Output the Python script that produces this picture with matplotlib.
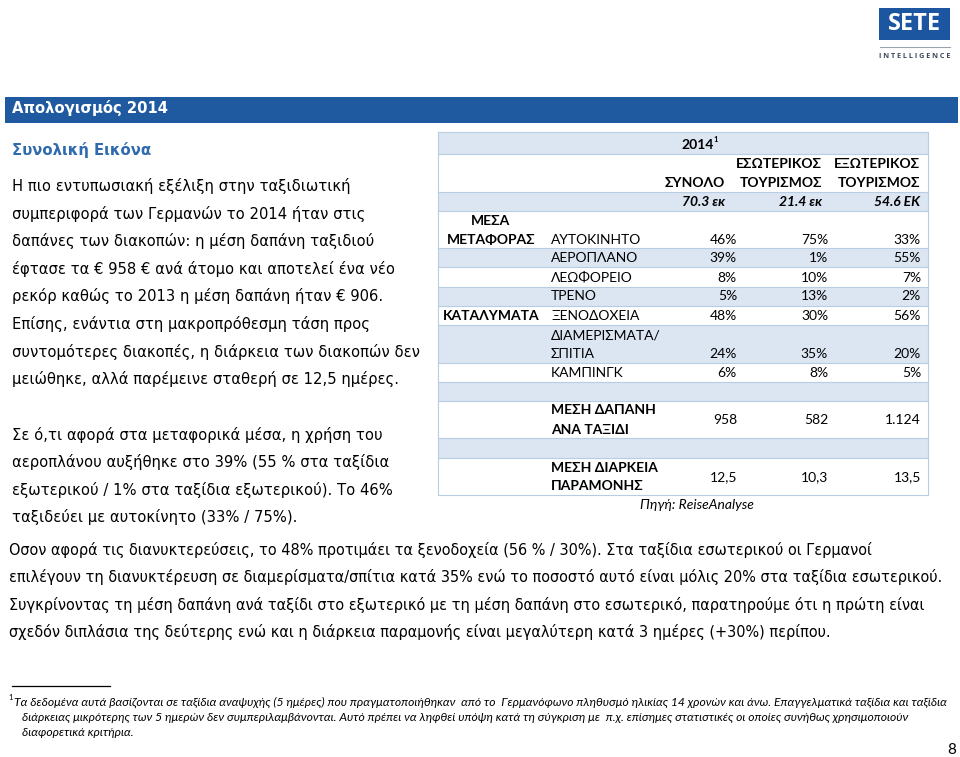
import matplotlib
matplotlib.use('Agg')
import matplotlib.pyplot as plt
from matplotlib import font_manager
from matplotlib.patches import Rectangle

# --- table data -------------------------------------------------------------
year_label = '2014'
col_headers = [['ΣΥΝΟΛΟ'], ['ΕΣΩΤΕΡΙΚΟΣ', 'ΤΟΥΡΙΣΜΟΣ'], ['ΕΞΩΤΕΡΙΚΟΣ', 'ΤΟΥΡΙΣΜΟΣ']]
population = ['70.3 εκ', '21.4 εκ', '54.6 ΕΚ']

transport_labels = ['ΑΥΤΟΚΙΝΗΤΟ', 'ΑΕΡΟΠΛΑΝΟ', 'ΛΕΩΦΟΡΕΙΟ', 'ΤΡΕΝΟ']
transport_total = [46, 39, 8, 5]
transport_domestic = [75, 1, 10, 13]
transport_abroad = [33, 55, 7, 2]

accom_labels = ['ΞΕΝΟΔΟΧΕΙΑ', 'ΔΙΑΜΕΡΙΣΜΑΤΑ/\nΣΠΙΤΙΑ', 'ΚΑΜΠΙΝΓΚ']
accom_total = [48, 24, 6]
accom_domestic = [30, 35, 8]
accom_abroad = [56, 20, 5]

spend_label = 'ΜΕΣΗ ΔΑΠΑΝΗ\nΑΝΑ ΤΑΞΙΔΙ'
spend = ['958', '582', '1.124']
stay_label = 'ΜΕΣΗ ΔΙΑΡΚΕΙΑ\nΠΑΡΑΜΟΝΗΣ'
stay = ['12,5', '10,3', '13,5']
source = 'Πηγή: ReiseAnalyse'

# --- page text --------------------------------------------------------------
left_para1 = [
    'Η πιο εντυπωσιακή εξέλιξη στην ταξιδιωτική',
    'συμπεριφορά των Γερμανών το 2014 ήταν στις',
    'δαπάνες των διακοπών: η μέση δαπάνη ταξιδιού',
    'έφτασε τα € 958 € ανά άτομο και αποτελεί ένα νέο',
    'ρεκόρ καθώς το 2013 η μέση δαπάνη ήταν € 906.',
    'Επίσης, ενάντια στη μακροπρόθεσμη τάση προς',
    'συντομότερες διακοπές, η διάρκεια των διακοπών δεν',
    'μειώθηκε, αλλά παρέμεινε σταθερή σε 12,5 ημέρες.',
]
left_para2 = [
    'Σε ό,τι αφορά στα μεταφορικά μέσα, η χρήση του',
    'αεροπλάνου αυξήθηκε στο 39% (55 % στα ταξίδια',
    'εξωτερικού / 1% στα ταξίδια εξωτερικού). Το 46%',
    'ταξιδεύει με αυτοκίνητο (33% / 75%).',
]
bottom_para = [
    'Οσον αφορά τις διανυκτερεύσεις, το 48% προτιμάει τα ξενοδοχεία (56 % / 30%). Στα ταξίδια εσωτερικού οι Γερμανοί',
    'επιλέγουν τη διανυκτέρευση σε διαμερίσματα/σπίτια κατά 35% ενώ το ποσοστό αυτό είναι μόλις 20% στα ταξίδια εσωτερικού.',
    'Συγκρίνοντας τη μέση δαπάνη ανά ταξίδι στο εξωτερικό με τη μέση δαπάνη στο εσωτερικό, παρατηρούμε ότι η πρώτη είναι',
    'σχεδόν διπλάσια της δεύτερης ενώ και η διάρκεια παραμονής είναι μεγαλύτερη κατά 3 ημέρες (+30%) περίπου.',
]
footnote = [
    'Τα δεδομένα αυτά βασίζονται σε ταξίδια αναψυχής (5 ημέρες) που πραγματοποιήθηκαν  από το  Γερμανόφωνο πληθυσμό ηλικίας 14 χρονών και άνω. Επαγγελματικά ταξίδια και ταξίδια',
    'διάρκειας μικρότερης των 5 ημερών δεν συμπεριλαμβάνονται. Αυτό πρέπει να ληφθεί υπόψη κατά τη σύγκριση με  π.χ. επίσημες στατιστικές οι οποίες συνήθως χρησιμοποιούν',
    'διαφορετικά κριτήρια.',
]

BLUE = '#1f5aa0'
SUB = '#2e6aad'
SHADE = '#dce6f2'
EDGE = '#b8cce4'
BODY = 'DejaVu Sans'
TAB = 'Lato'

# condensed face for the long bottom paragraph, if one is installed
names = {f.name for f in font_manager.fontManager.ttflist}
cond = None
for f in font_manager.fontManager.ttflist:
    if f.name == 'DejaVu Sans' and 'ondensed' in str(f.stretch) + f.fname:
        cond = ('DejaVu Sans', 'condensed')
        break
if cond is None and 'Liberation Sans Narrow' in names:
    cond = ('Liberation Sans Narrow', 'normal')
if cond is None:
    cond = ('DejaVu Sans', 'normal')

fig = plt.figure(figsize=(9.6, 7.57), dpi=100)
ax = fig.add_axes([0, 0, 1, 1])
ax.set_xlim(0, 960)
ax.set_ylim(757, 0)
ax.axis('off')

# logo
ax.add_patch(Rectangle((879, 8), 71, 32, color='#1c55a0', lw=0))
ax.text(914.5, 24.5, 'SETE', color='white', fontsize=17, fontweight='bold',
        family='Open Sans', ha='center', va='center')
ax.plot([880, 950], [46.5, 46.5], color='#9aa4b0', lw=0.8)
ax.text(915, 57, 'I N T E L L I G E N C E', color='#3a4a5c', fontsize=5.2,
        fontweight='bold', family='Open Sans', ha='center', va='center')

# title bar
ax.add_patch(Rectangle((5, 97), 953, 26, color=BLUE, lw=0))
ax.text(12, 108, 'Απολογισμός 2014', color='white', fontsize=10.6,
        fontweight='bold', family=BODY, va='center')
ax.text(12, 150, 'Συνολική Εικόνα', color=SUB, fontsize=10.7,
        fontweight='bold', family=BODY, va='center')

for i, line in enumerate(left_para1):
    ax.text(12, 186 + i * 27.6, line, fontsize=10.6, family=BODY, va='center')
for i, line in enumerate(left_para2):
    ax.text(12, 435 + i * 27.4, line, fontsize=10.6, family=BODY, va='center')
for i, line in enumerate(bottom_para):
    ax.text(9, 550 + i * 27.3, line, fontsize=11.6, family=cond[0],
            fontstretch=cond[1], va='center')

# --- table ------------------------------------------------------------------
L, R = 438, 928
label_x = 551
num_right = [737, 828, 921]
head_right = [725, 822, 920]
first_cx = 491

# row edges: (top, bottom, shaded)
rows = [(132, 154, True), (154, 192, False), (192, 211, True), (211, 248, False),
        (248, 267, True), (267, 287, False), (287, 306, True), (306, 325, False),
        (325, 363, True), (363, 382, False), (382, 401, True), (401, 438, False),
        (438, 458, True), (458, 495, False)]
for top, bot, sh in rows:
    if sh:
        ax.add_patch(Rectangle((L, top), R - L, bot - top, color=SHADE, lw=0))
    ax.plot([L, R], [bot, bot], color=EDGE, lw=0.8)
ax.plot([L, R], [132, 132], color=EDGE, lw=0.8)
ax.plot([L, L], [132, 495], color=EDGE, lw=0.8)
ax.plot([R, R], [132, 495], color=EDGE, lw=0.8)

fs = 10
ax.text(698, 145, year_label, fontsize=fs, fontweight='bold', family=TAB,
        ha='center', va='center')
ax.text(713.5, 140, '1', fontsize=5.5, fontweight='bold', family=TAB,
        ha='left', va='center')
for xr, lines in zip(head_right, col_headers):
    for k, txt in enumerate(reversed(lines)):
        ax.text(xr, 183 - k * 19, txt, fontsize=fs, fontweight='bold',
                family=TAB, ha='right', va='center')
for xr, txt in zip(head_right, population):
    ax.text(xr, 202, txt, fontsize=fs, fontweight='bold', style='italic',
            family=TAB, ha='right', va='center')

# transport block
ax.text(first_cx, 221, 'ΜΕΣΑ', fontsize=fs, fontweight='bold', family=TAB,
        ha='center', va='center')
ax.text(first_cx, 240, 'ΜΕΤΑΦΟΡΑΣ', fontsize=fs, fontweight='bold', family=TAB,
        ha='center', va='center')
transport_y = [240, 258, 277.5, 296.5]
for y, lab, a, b, c in zip(transport_y, transport_labels, transport_total,
                            transport_domestic, transport_abroad):
    ax.text(label_x, y, lab, fontsize=fs, family=TAB, va='center')
    for xr, v in zip(num_right, (a, b, c)):
        ax.text(xr, y, f'{v}%', fontsize=fs, family=TAB, ha='right', va='center')

# accommodation block
ax.text(first_cx, 316, 'ΚΑΤΑΛΥΜΑΤΑ', fontsize=fs, fontweight='bold', family=TAB,
        ha='center', va='center')
accom_y = [316, 354, 373]
for y, lab, a, b, c in zip(accom_y, accom_labels, accom_total,
                            accom_domestic, accom_abroad):
    parts = lab.split('\n')
    for k, p in enumerate(reversed(parts)):
        ax.text(label_x, y - k * 19, p, fontsize=fs, family=TAB, va='center')
    for xr, v in zip(num_right, (a, b, c)):
        ax.text(xr, y, f'{v}%', fontsize=fs, family=TAB, ha='right', va='center')

# spend / stay
for y, lab, vals in [(420, spend_label, spend), (477, stay_label, stay)]:
    l1, l2 = lab.split('\n')
    ax.text(label_x, y - 9.5, l1, fontsize=fs, fontweight='bold', family=TAB, va='center')
    ax.text(label_x, y + 9.5, l2, fontsize=fs, fontweight='bold', family=TAB, va='center')
    for xr, v in zip(num_right, vals):
        ax.text(xr, y, v, fontsize=fs, family=TAB, ha='right', va='center')

ax.text(697, 505, source, fontsize=fs, style='italic', family=TAB,
        ha='center', va='center')

# footnote
ax.plot([12, 110], [686, 686], color='black', lw=0.9)
ax.text(8, 697, '1', fontsize=5.5, family=TAB, va='center')
for i, line in enumerate(footnote):
    ax.text(14 if i == 0 else 22, 702 + i * 15.5, line, fontsize=8.7,
            style='italic', family=TAB, va='center')
ax.text(952, 750, '8', fontsize=11, family=TAB, ha='center', va='center')

fig.savefig('out.png', dpi=100)
